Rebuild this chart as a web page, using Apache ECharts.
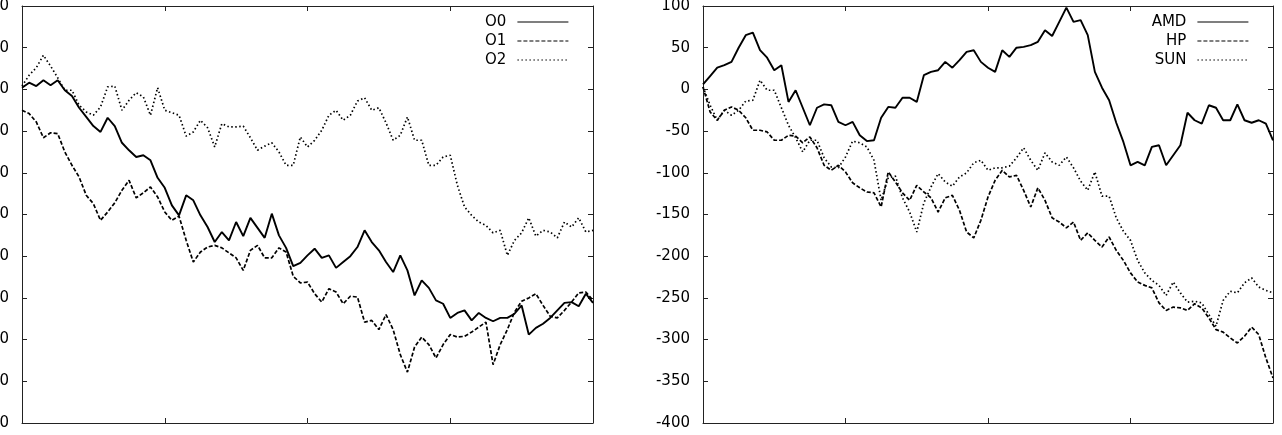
<!DOCTYPE html>
<html>
<head>
<meta charset="utf-8">
<script src="https://cdn.jsdelivr.net/npm/echarts@6.0.0/dist/echarts.min.js"></script>
<style>
  html, body { margin: 0; padding: 0; background: #fff; }
  #chart { width: 1282px; height: 435px; }
</style>
</head>
<body>
<div id="chart"></div>
<script>
// samples are taken every 5 x-units, 0..400
const step = 5

// left panel
const leftNames = ['O0', 'O1', 'O2']
const o0 = [2, 8, 4, 11, 5, 11, -1, -8, -22, -33,
  -44, -51, -34, -44, -64, -73, -81, -79, -85, -106,
  -118, -139, -151, -127, -133, -151, -165, -183, -171, -181,
  -159, -176, -154, -166, -178, -149, -175, -190, -212, -208,
  -199, -191, -202, -199, -214, -207, -200, -189, -169, -183,
  -193, -207, -219, -199, -217, -247, -229, -238, -253, -257,
  -274, -268, -265, -277, -268, -274, -278, -274, -274, -269,
  -259, -294, -286, -281, -274, -265, -256, -255, -260, -245,
  -256]
const o1 = [-25, -29, -39, -58, -52, -53, -75, -91, -105, -127,
  -137, -157, -147, -136, -121, -109, -130, -124, -117, -129,
  -147, -157, -152, -181, -207, -195, -189, -187, -190, -196,
  -202, -217, -193, -187, -202, -202, -190, -195, -224, -232,
  -231, -245, -255, -239, -243, -257, -248, -249, -279, -277,
  -288, -270, -288, -318, -339, -309, -297, -306, -322, -306,
  -294, -297, -296, -291, -285, -279, -330, -306, -288, -267,
  -254, -250, -245, -259, -272, -274, -265, -255, -244, -243,
  -253]
const o2 = [4, 17, 26, 41, 28, 14, -1, -1, -19, -27,
  -31, -21, 3, 4, -25, -13, -4, -9, -31, 2,
  -25, -28, -31, -56, -51, -37, -46, -69, -41, -45,
  -45, -44, -58, -73, -68, -64, -75, -91, -91, -57,
  -69, -61, -49, -31, -25, -37, -31, -14, -10, -25,
  -22, -40, -61, -55, -33, -61, -61, -91, -91, -81,
  -79, -115, -141, -151, -159, -163, -172, -169, -199, -181,
  -172, -154, -176, -169, -171, -178, -159, -165, -154, -171,
  -169]

// right panel
const rightNames = ['AMD', 'HP', 'SUN']
const amd = [6, 16, 26, 29, 33, 50, 65, 68, 47, 38,
  23, 29, -15, -1, -22, -43, -22, -18, -19, -39,
  -43, -39, -55, -62, -61, -34, -21, -22, -10, -10,
  -15, 17, 21, 23, 33, 26, 35, 45, 47, 33,
  26, 21, 47, 39, 50, 51, 53, 57, 71, 64,
  81, 98, 81, 83, 65, 21, 2, -13, -40, -63,
  -91, -87, -91, -69, -67, -91, -79, -67, -28, -37,
  -41, -19, -22, -37, -37, -18, -37, -40, -37, -41,
  -61]
const hp = [3, -27, -37, -25, -21, -25, -34, -49, -49, -51,
  -61, -61, -55, -56, -64, -57, -70, -91, -97, -91,
  -99, -112, -118, -123, -124, -141, -99, -111, -124, -133,
  -115, -123, -130, -147, -130, -127, -145, -171, -178, -157,
  -129, -109, -97, -105, -103, -121, -141, -118, -133, -154,
  -159, -166, -159, -181, -172, -181, -189, -177, -193, -205,
  -220, -231, -235, -238, -256, -265, -261, -262, -265, -257,
  -262, -274, -288, -291, -298, -304, -296, -285, -294, -322,
  -346]
const sun = [3, -19, -37, -25, -31, -25, -14, -13, 11, -1,
  -1, -22, -43, -58, -75, -61, -61, -82, -93, -94,
  -81, -62, -64, -69, -85, -133, -106, -104, -130, -147,
  -171, -136, -117, -101, -111, -116, -105, -100, -88, -85,
  -97, -94, -94, -92, -82, -70, -85, -97, -76, -87,
  -91, -81, -94, -110, -121, -99, -128, -128, -154, -170,
  -181, -205, -220, -229, -235, -247, -231, -244, -255, -254,
  -256, -270, -284, -253, -242, -244, -232, -226, -237, -241,
  -244]

const xMin = 0
const xMax = 400
const yMin = -400
const yMax = 100

const font = 'DejaVu Sans'
const ink = '#000'
const frame = '#222'
const dashStyles = ['solid', [4, 2], [1.5, 2.5]]
const lineWidths = [1.9, 1.7, 1.7]

const chart = echarts.init(document.getElementById('chart'))

function xAxisFor (grid, pos) {
  return {
    type: 'value',
    gridIndex: grid,
    position: pos,
    min: xMin,
    max: xMax,
    interval: 100,
    axisLine: { onZero: false, lineStyle: { color: frame, width: 1 } },
    axisTick: { inside: true, length: 5, lineStyle: { color: frame } },
    axisLabel: { show: false },
    splitLine: { show: false }
  }
}

function yAxisFor (grid, pos, showLabels) {
  return {
    type: 'value',
    gridIndex: grid,
    position: pos,
    min: yMin,
    max: yMax,
    interval: 50,
    axisLine: { onZero: false, lineStyle: { color: frame, width: 1 } },
    axisTick: { inside: true, length: 5, lineStyle: { color: frame } },
    axisLabel: {
      show: showLabels,
      margin: 13,
      color: ink,
      fontFamily: font,
      fontSize: 15
    },
    splitLine: { show: false }
  }
}

function lineSeries (name, values, axisIdx, styleIdx) {
  return {
    name,
    type: 'line',
    xAxisIndex: axisIdx,
    yAxisIndex: axisIdx,
    data: values.map((v, i) => [i * step, v]),
    symbol: 'none',
    showSymbol: false,
    animation: false,
    lineStyle: { color: ink, width: lineWidths[styleIdx], type: dashStyles[styleIdx] },
    itemStyle: { color: ink }
  }
}

function legendFor (names, right) {
  return {
    data: names,
    orient: 'vertical',
    right,
    top: 14,
    align: 'right',
    padding: 0,
    itemWidth: 51,
    itemHeight: 10,
    itemGap: 3,
    selectedMode: false,
    // hide the marker dot, keep only the line sample
    itemStyle: { color: 'transparent', borderWidth: 0, opacity: 0 },
    lineStyle: { width: 1.2 },
    textStyle: {
      color: ink,
      fontFamily: font,
      fontSize: 15,
      lineHeight: 16,
      padding: [0, 6, 0, 0]
    }
  }
}

const option = {
  backgroundColor: '#fff',
  animation: false,
  grid: [
    { left: 22, top: 6, width: 571, height: 417, outerBoundsMode: 'none', containLabel: false },
    { left: 703, top: 6, width: 570, height: 417, outerBoundsMode: 'none', containLabel: false }
  ],
  xAxis: [
    xAxisFor(0, 'bottom'),
    xAxisFor(0, 'top'),
    xAxisFor(1, 'bottom'),
    xAxisFor(1, 'top')
  ],
  yAxis: [
    yAxisFor(0, 'left', true),
    yAxisFor(0, 'right', false),
    yAxisFor(1, 'left', true),
    yAxisFor(1, 'right', false)
  ],
  legend: [
    legendFor(leftNames, 713),
    legendFor(rightNames, 33)
  ],
  series: [
    lineSeries(leftNames[0], o0, 0, 0),
    lineSeries(leftNames[1], o1, 0, 1),
    lineSeries(leftNames[2], o2, 0, 2),
    lineSeries(rightNames[0], amd, 2, 0),
    lineSeries(rightNames[1], hp, 2, 1),
    lineSeries(rightNames[2], sun, 2, 2)
  ]
}

chart.setOption(option)
</script>
</body>
</html>
